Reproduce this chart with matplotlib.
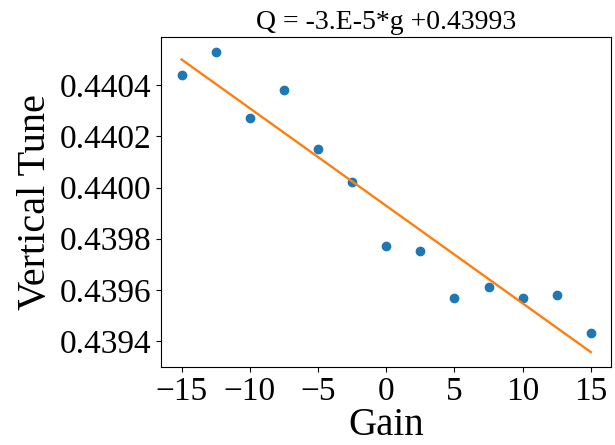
import matplotlib

matplotlib.use("Agg")
import matplotlib.pyplot as plt  # noqa: E402
import numpy as np  # noqa: E402

plt.rcParams["font.family"] = ["Liberation Serif", "DejaVu Serif"]
plt.rcParams["mathtext.fontset"] = "stix"

gain = [-15, -12.5, -10, -7.5, -5, -2.5, 0, 2.5, 5, 7.5, 10, 12.5, 15]
tune = [0.44044, 0.44053, 0.44027, 0.44038, 0.44015, 0.44002, 0.43977,
        0.43975, 0.43957, 0.43961, 0.43957, 0.43958, 0.43943]
title = "Q = -3.E-5*g +0.43993"
xticks = [-15, -10, -5, 0, 5, 10, 15]
yticks = [0.4394, 0.4396, 0.4398, 0.4400, 0.4402, 0.4404]

g = np.array(gain)
q = np.array(tune)
slope, intercept = np.polyfit(g, q, 1)

fig = plt.figure(figsize=(6.15, 4.45), dpi=100)
ax = fig.add_axes([0.262, 0.175, 0.732, 0.742])
ax.scatter(g, q, color="C0")
ax.plot(g, slope * g + intercept, color="C1", lw=1.7)
ax.set_title(title, fontsize=20)
ax.set_xlabel("Gain", fontsize=28, labelpad=0)
ax.set_ylabel("Vertical Tune", fontsize=29)
ax.tick_params(labelsize=24)
ax.set_xticks(xticks)
ax.set_yticks(yticks)
ax.yaxis.set_major_formatter(matplotlib.ticker.FormatStrFormatter("%.4f"))
fig.savefig("out.png", dpi=100)
plt.close(fig)
